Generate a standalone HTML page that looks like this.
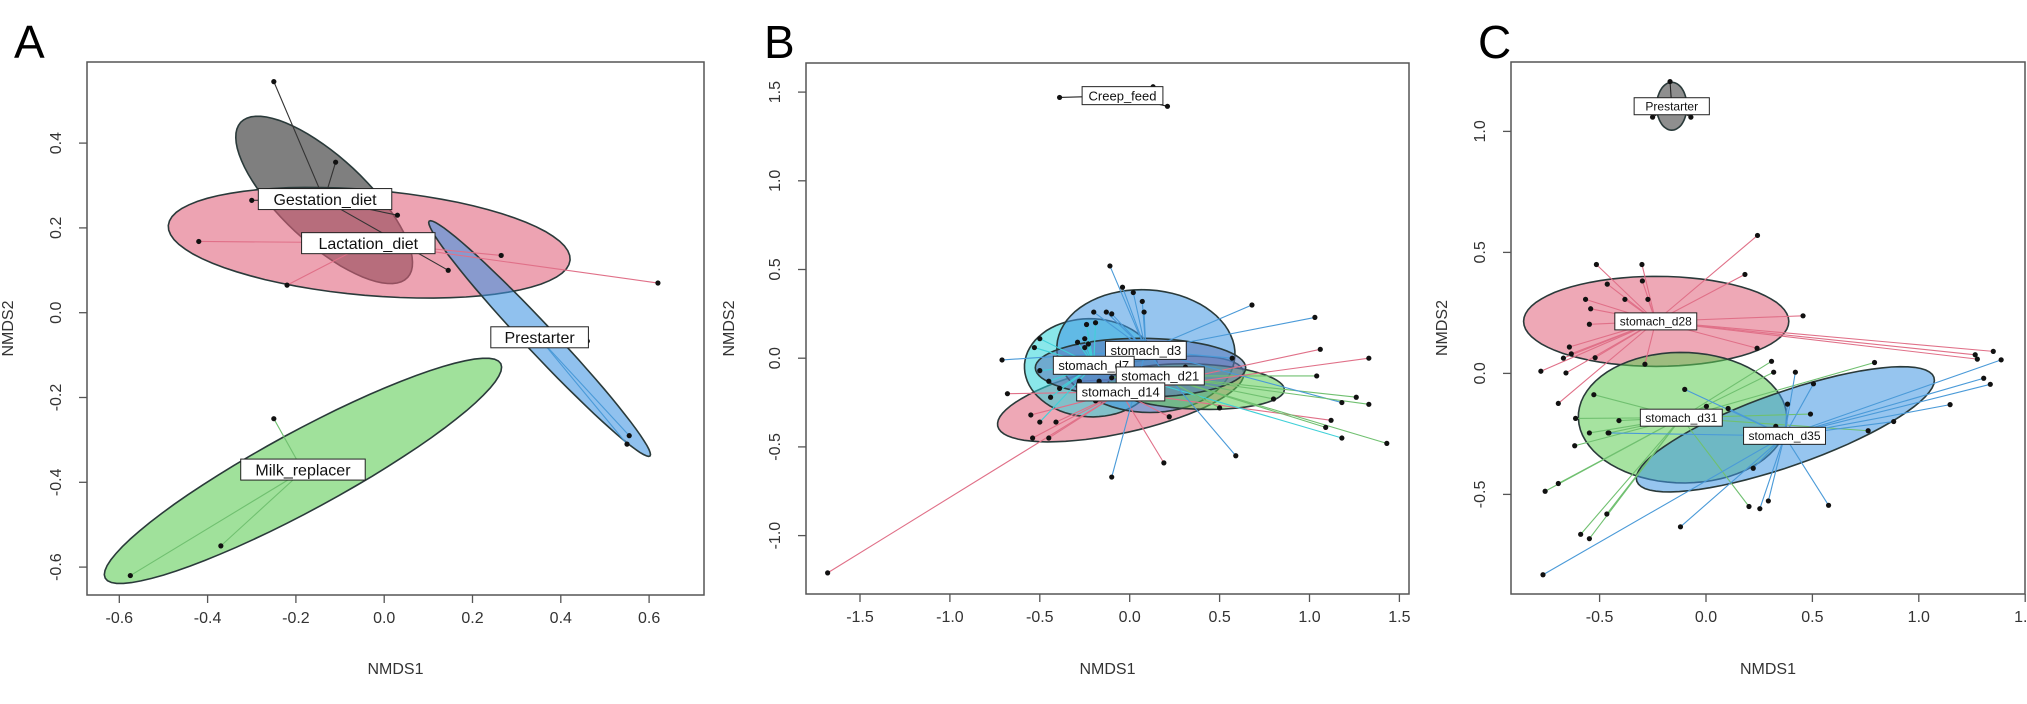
<!DOCTYPE html>
<html><head><meta charset="utf-8"><style>
html,body{margin:0;padding:0;background:#fff;}
svg{display:block;font-family:"Liberation Sans",Arial,sans-serif;}
</style></head><body>
<svg id="fig" width="2027" height="704" viewBox="0 0 2027 704" xmlns="http://www.w3.org/2000/svg"></svg>
<script>
// ---------- Panel A data ----------
const aX=[-0.25,-0.30,-0.11,0.03,0.145,-0.42,-0.22,0.265,0.62,0.46,0.555,0.55,-0.25,-0.37,-0.575];
const aY=[0.545,0.265,0.355,0.23,0.10,0.168,0.065,0.135,0.07,-0.067,-0.29,-0.31,-0.25,-0.55,-0.62];
const aG=[0,0,0,0,0,1,1,1,1,2,2,2,3,3,3];
const aGroups=["Gestation_diet","Lactation_diet","Prestarter","Milk_replacer"];
const aCx=[-0.136,-0.034,0.352,-0.184];
const aCy=[0.266,0.165,-0.061,-0.373];
const aAx=[0.189,0.455,0.250,0.448], aAy=[-0.183,-0.041,-0.277,0.253];
const aBx=[0.066,0.010,0.024,0.042], aBy=[0.074,0.124,0.023,-0.081];
const aLx=[-0.134,-0.036,0.352,-0.184], aLy=[0.268,0.164,-0.058,-0.37];
// ---------- Panel B data ----------
const bX=[-1.68,-0.11,-0.04,0.02,0.07,0.08,0.68,1.03,1.06,1.04,1.26,1.18,1.12,1.09,1.18,0.59,0.19,-0.10,-0.71,-0.68,-0.55,-0.54,-0.45,-0.50,-0.41,0.22,0.50,0.80,0.57,0.31,-0.50,-0.53,-0.50,-0.45,-0.39,-0.44,-0.24,-0.19,-0.20,-0.13,-0.10,-0.29,-0.25,-0.25,-0.23,-0.28,-0.17,-0.10,-0.19,1.33,1.33,1.43,-0.39,0.13,0.21];
const bY=[-1.21,0.52,0.40,0.37,0.32,0.26,0.30,0.23,0.05,-0.10,-0.22,-0.25,-0.35,-0.39,-0.45,-0.55,-0.59,-0.67,-0.01,-0.20,-0.32,-0.45,-0.45,-0.36,-0.36,-0.33,-0.28,-0.23,0.00,-0.05,0.11,0.06,-0.07,-0.13,-0.17,-0.22,0.19,0.20,0.26,0.26,0.25,0.09,0.11,0.06,0.08,-0.13,-0.13,-0.11,-0.24,0.00,-0.26,-0.48,1.47,1.53,1.42];
const bG=[0,2,2,2,2,2,2,2,0,3,3,2,0,3,1,2,0,2,2,0,0,0,0,1,0,0,3,3,2,4,1,1,1,1,1,1,1,1,2,2,2,1,1,1,1,4,4,3,0,0,3,3,5,5,5];
const bGroups=["stomach_d14","stomach_d7","stomach_d3","stomach_d21","stomach_d21b","Creep_feed"];
const bCx=[-0.05,-0.215,0.09,0.37,0.06,-0.04];
const bCy=[-0.23,-0.054,0.04,-0.16,-0.054,1.48];
const bAx=[0.684,0.37,0.495,0.49,0.585,0.22], bAy=[0.153,-0.02,-0.03,-0.02,0.0,0.0];
const bBx=[0.041,0.02,0.02,0.01,0.0,0.0], bBy=[-0.187,0.276,0.345,0.127,0.166,0.04];
const bSx=[-0.05,-0.20,0.09,0.17,0.17,-0.04], bSy=[-0.19,-0.04,0.044,-0.10,-0.10,1.48];
const bLabels=["stomach_d3","stomach_d7","stomach_d21","stomach_d14","Creep_feed"];
const bLx=[0.09,-0.20,0.17,-0.05,-0.04], bLy=[0.044,-0.04,-0.10,-0.19,1.48];
// ---------- Panel C data ----------
const cX=[0.242,-0.515,-0.301,-0.464,-0.299,0.183,-0.566,-0.381,-0.273,-0.542,-0.548,0.456,-0.642,-0.670,-0.633,-0.521,-0.776,-0.658,-0.694,0.240,1.350,1.265,1.275,-0.287,
 0.792,0.308,0.318,-0.527,-0.613,-0.409,-0.548,-0.456,-0.617,-0.694,-0.756,-0.466,-0.589,-0.548,0.202,0.762,0.002,0.491,
 -0.100,0.104,0.420,0.505,0.383,0.882,1.147,1.305,1.336,1.387,0.222,0.253,0.293,0.576,-0.120,-0.766,0.328,-0.46,
 -0.169,-0.251,-0.071];
const cY=[0.570,0.450,0.450,0.369,0.382,0.409,0.306,0.306,0.306,0.267,0.203,0.238,0.109,0.063,0.081,0.065,0.009,0.002,-0.124,0.104,0.091,0.077,0.059,0.038,
 0.045,0.050,0.005,-0.088,-0.186,-0.195,-0.246,-0.246,-0.299,-0.455,-0.487,-0.581,-0.665,-0.683,-0.550,-0.237,-0.136,-0.168,
 -0.066,-0.145,0.005,-0.043,-0.127,-0.199,-0.129,-0.020,-0.045,0.056,-0.392,-0.559,-0.527,-0.545,-0.634,-0.832,-0.219,-0.246,
 1.206,1.059,1.059];
const cG=[0,0,0,0,0,0,0,0,0,0,0,0,0,0,0,0,0,0,0,0,0,0,0,0,
 1,1,1,1,1,1,1,1,1,1,1,1,1,1,1,1,1,1,
 2,2,2,2,2,2,2,2,2,2,2,2,2,2,2,2,2,2,
 3,3,3];
const cGroups=["stomach_d28","stomach_d31","stomach_d35","Prestarter"];
const cCx=[-0.234,-0.11,0.373,-0.161], cCy=[0.215,-0.183,-0.231,1.104];
const cAx=[0.623,0.489,0.698,0.071], cAy=[0.0,-0.02,0.215,0.0];
const cBx=[0.0,0.03,0.057,0.0], cBy=[0.186,0.269,-0.144,0.099];
const cLx=[-0.236,-0.116,0.369,-0.161], cLy=[0.215,-0.183,-0.258,1.104];

// ---------- drawing ----------
const NS="http://www.w3.org/2000/svg";
const svg=document.getElementById('fig');
function el(tag,attrs,parent){const e=document.createElementNS(NS,tag);for(const k in attrs)e.setAttribute(k,attrs[k]);(parent||svg).appendChild(e);return e;}

function panel(cfg){
  const g=el('g',{});
  
  
  const sx=v=>cfg.x0+cfg.kx*v, sy=v=>cfg.y0-cfg.ky*v;
  const clipId='clip'+cfg.letter;
  const cp=el('clipPath',{id:clipId},g);
  el('rect',{x:cfg.L,y:cfg.T,width:cfg.R-cfg.L,height:cfg.B-cfg.T},cp);
  const plot=el('g',{'clip-path':'url(#'+clipId+')'},g);
  for(let i=0;i<cfg.cx.length;i++){
    let d='';
    for(let k=0;k<=72;k++){const t=k/72*2*Math.PI;
      const px=sx(cfg.cx[i]+cfg.ax[i]*Math.cos(t)+cfg.bx[i]*Math.sin(t));
      const py=sy(cfg.cy[i]+cfg.ay[i]*Math.cos(t)+cfg.by[i]*Math.sin(t));
      d+=(k?'L':'M')+px.toFixed(1)+','+py.toFixed(1);}
    const p=el('path',{d:d+'Z',fill:cfg.fill[i],'fill-opacity':cfg.fo,stroke:'#2a3a3a','stroke-width':1.6},plot);
    
    
  }
  for(let j=0;j<cfg.px.length;j++){
    const gi=cfg.pg[j];
    const ln=el('line',{x1:sx(cfg.sxc[gi]),y1:sy(cfg.syc[gi]),x2:sx(cfg.px[j]),y2:sy(cfg.py[j]),stroke:cfg.line[gi],'stroke-width':1.1},plot);
    
    
  }
  for(let j=0;j<cfg.px.length;j++){
    const c=el('circle',{cx:sx(cfg.px[j]),cy:sy(cfg.py[j]),r:2.6,fill:'#111'},plot);
    
    
  }
  for(let i=0;i<cfg.labels.length;i++){
    const lx=sx(cfg.lx[i]), ly=sy(cfg.ly[i]);
    const w=cfg.labels[i].length*cfg.fs*0.56+8, h=cfg.fs+5;
    const r=el('rect',{x:lx-w/2,y:ly-h/2,width:w,height:h,fill:'#fff',stroke:'#222','stroke-width':1},plot);
    
    
    const t=el('text',{x:lx,y:ly+cfg.fs*0.36,'font-size':cfg.fs,'text-anchor':'middle',fill:'#111'},plot);
    t.textContent=cfg.labels[i];
    
    
  }
  const fr=el('rect',{x:cfg.L,y:cfg.T,width:cfg.R-cfg.L,height:cfg.B-cfg.T,fill:'none',stroke:'#555','stroke-width':1.5},g);
  
  
  cfg.xt.forEach(v=>{
    const x=sx(v);
    el('line',{x1:x,y1:cfg.B,x2:x,y2:cfg.B+8,stroke:'#555','stroke-width':1.3},g);
    const t=el('text',{x:x,y:cfg.B+28,'font-size':16,'text-anchor':'middle',fill:'#333'},g);
    t.textContent=v.toFixed(1);
    
    
  });
  cfg.yt.forEach(v=>{
    const y=sy(v);
    el('line',{x1:cfg.L,y1:y,x2:cfg.L-8,y2:y,stroke:'#555','stroke-width':1.3},g);
    const tx=cfg.L-26;
    const t=el('text',{x:tx,y:y,'font-size':16,'text-anchor':'middle',fill:'#333',transform:'rotate(-90 '+tx+' '+y+')'},g);
    t.textContent=v.toFixed(1);
    
    
  });
  const xt=el('text',{x:(cfg.L+cfg.R)/2,y:674,'font-size':16,'text-anchor':'middle',fill:'#333'},g);
  xt.textContent='NMDS1';
  
  
  const ytx=cfg.L-cfg.ytOff, yty=(cfg.T+cfg.B)/2;
  const yt=el('text',{x:ytx,y:yty,'font-size':16,'text-anchor':'middle',fill:'#333',transform:'rotate(-90 '+ytx+' '+yty+')'},g);
  yt.textContent='NMDS2';
  
  
  const pl=el('text',{x:cfg.letterX,y:58,'font-size':46,fill:'#000'},g);
  pl.textContent=cfg.letter;
  
  
}
const PINK='#e0607a',GREEN='#5ccc52',BLUE='#3f95e2',GRAY='#222',CYAN='#2ad4d8',NAVY='#5a78b8';
panel({name:'panel-a',letter:'A',letterX:14,L:87,R:704,T:62,B:595,x0:384.2,kx:441.5,y0:312.7,ky:424,
  cx:aCx,cy:aCy,ax:aAx,ay:aAy,bx:aBx,by:aBy,groups:aGroups,fill:[GRAY,PINK,BLUE,GREEN],fo:0.58,
  px:aX,py:aY,pg:aG,sxc:aCx,syc:aCy,line:['#333','#e07088','#4a9ad8','#70c070'],
  labels:aGroups,lx:aLx,ly:aLy,fs:16,xt:[-0.6,-0.4,-0.2,0,0.2,0.4,0.6],yt:[-0.6,-0.4,-0.2,0,0.2,0.4],ytOff:74});
panel({name:'panel-b',letter:'B',letterX:764,L:806,R:1409,T:63,B:594,x0:1129.7,kx:179.8,y0:358.2,ky:177.4,
  cx:bCx,cy:bCy,ax:bAx,ay:bAy,bx:bBx,by:bBy,groups:bGroups,fill:[PINK,CYAN,BLUE,GREEN,NAVY,'#666'],fo:0.55,
  px:bX,py:bY,pg:bG,sxc:bSx,syc:bSy,line:['#e07088','#40d0d8','#4a9ad8','#70c070','#5a78b8','#222'],
  labels:bLabels,lx:bLx,ly:bLy,fs:13,xt:[-1.5,-1,-0.5,0,0.5,1,1.5],yt:[-1,-0.5,0,0.5,1,1.5],ytOff:72});
panel({name:'panel-c',letter:'C',letterX:1478,L:1511,R:2025,T:62,B:594,x0:1706,kx:212.8,y0:373.4,ky:242,
  cx:cCx,cy:cCy,ax:cAx,ay:cAy,bx:cBx,by:cBy,groups:cGroups,fill:[PINK,GREEN,BLUE,'#333'],fo:0.55,
  px:cX,py:cY,pg:cG,sxc:cLx,syc:cLy,line:['#e07088','#70c070','#4a9ad8','#222'],
  labels:cGroups,lx:cLx,ly:cLy,fs:12,xt:[-0.5,0,0.5,1,1.5],yt:[-0.5,0,0.5,1],ytOff:64});
</script>
</body></html>
